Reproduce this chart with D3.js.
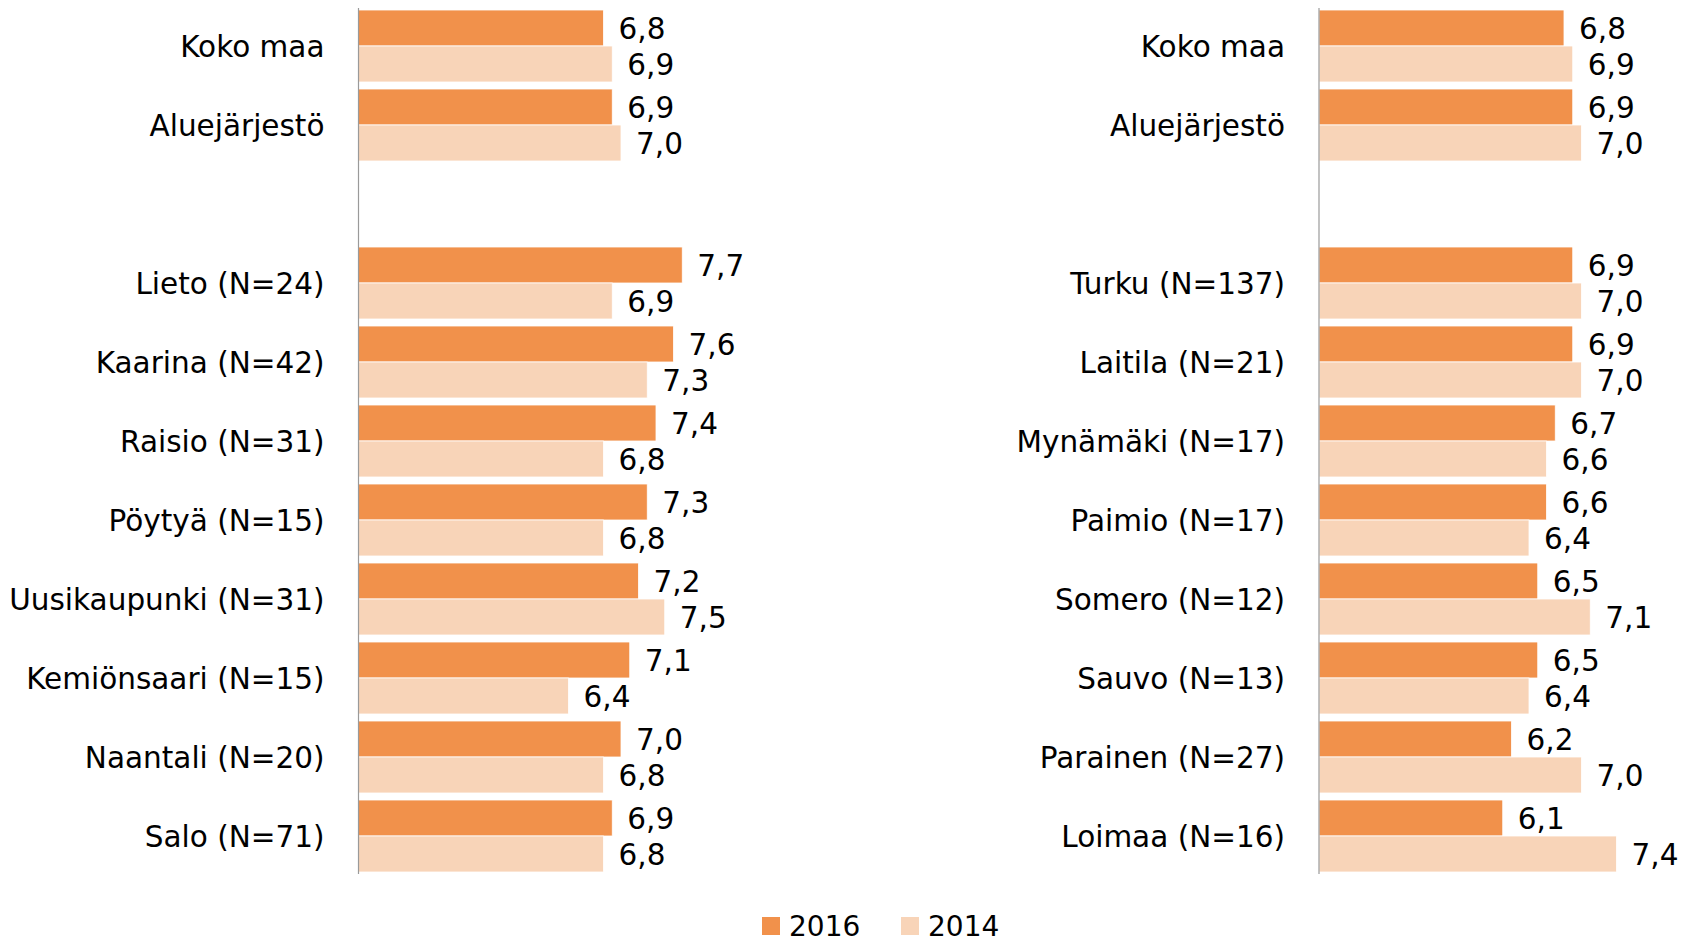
<!DOCTYPE html>
<html>
<head>
<meta charset="utf-8">
<script src="https://cdn.jsdelivr.net/npm/d3@7"></script>
<style>
  body { margin: 0; background: #fff; }
  svg text { font-family: "DejaVu Sans", sans-serif; fill: #000; }
</style>
</head>
<body>
<div class="fig"></div>
<script>
// data
var series = ["2016", "2014"];
var colors = ["#F1914B", "#F8D4B8"];

var leftCats = ["Koko maa", "Aluejärjestö", "", "Lieto (N=24)", "Kaarina (N=42)", "Raisio (N=31)",
                "Pöytyä (N=15)", "Uusikaupunki (N=31)", "Kemiönsaari (N=15)", "Naantali (N=20)", "Salo (N=71)"];
var left2016 = [6.8, 6.9, null, 7.7, 7.6, 7.4, 7.3, 7.2, 7.1, 7.0, 6.9];
var left2014 = [6.9, 7.0, null, 6.9, 7.3, 6.8, 6.8, 7.5, 6.4, 6.8, 6.8];

var rightCats = ["Koko maa", "Aluejärjestö", "", "Turku (N=137)", "Laitila (N=21)", "Mynämäki (N=17)",
                 "Paimio (N=17)", "Somero (N=12)", "Sauvo (N=13)", "Parainen (N=27)", "Loimaa (N=16)"];
var right2016 = [6.8, 6.9, null, 6.9, 6.9, 6.7, 6.6, 6.5, 6.5, 6.2, 6.1];
var right2014 = [6.9, 7.0, null, 7.0, 7.0, 6.6, 6.4, 7.1, 6.4, 7.0, 7.4];

var W = 1688, H = 943;
var fmt = d3.formatLocale({decimal: ",", thousands: " ", grouping: [3], currency: ["", "€"]}).format(".1f");

const svg = d3.select(".fig")
              .append("svg")
              .attr("width", W)
              .attr("height", H);

var y = d3.scaleBand()
          .domain(d3.range(leftCats.length))
          .range([6.5, 875.5])
          .paddingInner(0.0886)
          .paddingOuter(0.0443);

var ySub = d3.scaleBand()
             .domain(series)
             .range([0, y.bandwidth()]);

var x = d3.scaleLinear()
          .domain([4, 8])
          .range([0, 350]);

var color = d3.scaleOrdinal().domain(series).range(colors);

function panel(x0, cats, v2016, v2014) {
  var g = svg.append("g").attr("transform", "translate(" + x0 + ",0)");

  var rows = cats.map(function(c, i) {
    return { i: i, name: c, vals: [{ s: "2016", v: v2016[i] }, { s: "2014", v: v2014[i] }] };
  });

  var row = g.selectAll("g.row")
             .data(rows)
             .enter().append("g")
             .attr("class", "row")
             .attr("transform", function(d) { return "translate(0," + y(d.i) + ")"; });

  var bar = row.selectAll("g.bar")
               .data(function(d) { return d.vals.filter(function(e) { return e.v != null; }); })
               .enter().append("g");

  bar.append("rect")
     .attr("x", 0)
     .attr("y", function(d) { return ySub(d.s); })
     .attr("width", function(d) { return x(d.v); })
     .attr("height", ySub.bandwidth())
     .attr("fill", function(d) { return color(d.s); })
     .attr("stroke", "#fff")
     .attr("stroke-width", 0.8);

  bar.append("text")
     .attr("x", function(d) { return x(d.v) + 15; })
     .attr("y", function(d) { return ySub(d.s) + ySub.bandwidth() / 2; })
     .attr("dy", "0.36em")
     .style("font-size", "29.5px")
     .text(function(d) { return fmt(d.v); });

  row.append("text")
     .attr("x", -34)
     .attr("y", y.bandwidth() / 2)
     .attr("dy", "0.36em")
     .attr("text-anchor", "end")
     .style("font-size", "29.5px")
     .text(function(d) { return d.name; });

  // vertical category axis line
  g.append("line")
   .attr("x1", 0).attr("x2", 0)
   .attr("y1", 8).attr("y2", 874)
   .attr("stroke", "#9a9a9a")
   .attr("stroke-width", 1.2);
}

panel(358.5, leftCats, left2016, left2014);
panel(1319, rightCats, right2016, right2014);

// legend
var legX = [762, 901];
var leg = svg.selectAll("g.leg")
             .data(series)
             .enter().append("g")
             .attr("transform", function(d, i) { return "translate(" + legX[i] + ",917)"; });
leg.append("rect")
   .attr("width", 18).attr("height", 18)
   .attr("fill", function(d) { return color(d); });
leg.append("text")
   .attr("x", 27)
   .attr("y", 9)
   .attr("dy", "0.36em")
   .style("font-size", "28px")
   .text(function(d) { return d; });
</script>
</body>
</html>
